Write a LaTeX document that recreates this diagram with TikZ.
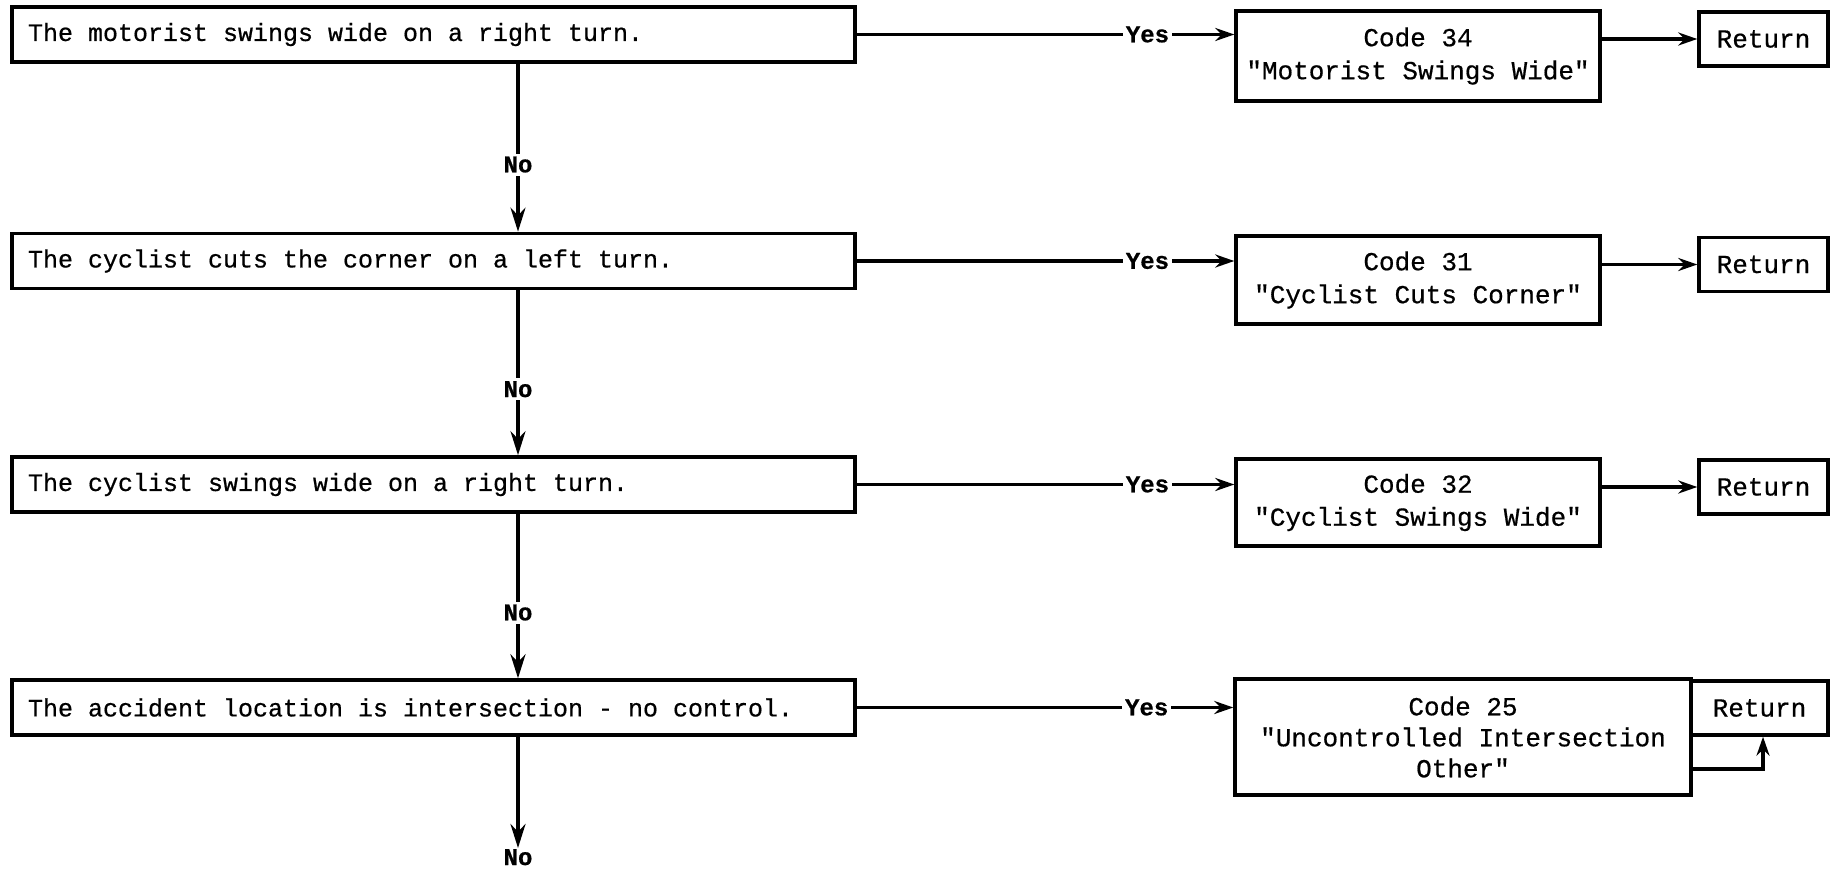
\documentclass[tikz,border=0pt]{standalone}
\usepackage{fontspec}
\newfontfamily\tw{Liberation Mono}[WordSpace=1.2,FakeBold=0.6]
\newfontfamily\twb{Liberation Mono}[FakeBold=0.6]
\usetikzlibrary{arrows.meta}
\begin{document}
\begin{tikzpicture}[x=1pt,y=-1pt,
  every node/.style={font=\tw\fontsize{26}{33}\selectfont},
  qbox/.style={draw,line width=3.4pt,minimum width=843pt,minimum height=55pt,text width=811pt,inner sep=16pt,align=flush left,font=\tw\fontsize{25}{31}\selectfont},
  cbox/.style={draw,line width=3.4pt,align=center,inner sep=0pt},
  rbox/.style={draw,line width=3.4pt,inner sep=0pt,minimum height=54pt},
  arr/.style={line width=3.4pt,-{Stealth[length=24pt,width=15pt]}},
  sarr/.style={line width=3.4pt,-{Stealth[length=19pt,width=13pt]}},
  lbl/.style={font=\twb\bfseries\fontsize{24}{28}\selectfont,fill=white,inner sep=3pt}
]
\useasboundingbox (0,0) rectangle (1841,878);
% question boxes
\node[qbox] (b1) at (433.5,34.5) {The motorist swings wide on a right turn.};
\node[qbox] (b2) at (433.5,261) {The cyclist cuts the corner on a left turn.};
\node[qbox] (b3) at (433.5,484.5) {The cyclist swings wide on a right turn.};
\node[qbox] (b4) at (433.5,707.5) {The accident location is intersection - no control.};
% code boxes
\node[cbox,minimum width=364pt,minimum height=90pt] (c1) at (1418,56) {Code 34\\"Motorist Swings Wide"};
\node[cbox,minimum width=364pt,minimum height=88pt] (c2) at (1418,280) {Code 31\\"Cyclist Cuts Corner"};
\node[cbox,minimum width=364pt,minimum height=87pt] (c3) at (1418,502.5) {Code 32\\"Cyclist Swings Wide"};
\node[cbox,minimum width=456pt,minimum height=116pt,font=\tw\fontsize{26}{31}\selectfont] (c4) at (1463,737) {Code 25\\"Uncontrolled Intersection\\Other"};
% return boxes
\node[rbox,minimum width=129pt] (r1) at (1763.5,39) {Return};
\node[rbox,minimum width=129pt] (r2) at (1763.5,264.5) {Return};
\node[rbox,minimum width=129pt] (r3) at (1763.5,487) {Return};
\node[rbox,minimum width=137pt] (r4) at (1759.5,708) {Return};
% vertical No connectors
\coordinate (vx) at (518,0);
\coordinate (endv) at (518,848);
\draw[arr] (b1.south -| vx) -- node[lbl,pos=0.6] {No} (b2.north -| vx);
\draw[arr] (b2.south -| vx) -- node[lbl,pos=0.6] {No} (b3.north -| vx);
\draw[arr] (b3.south -| vx) -- node[lbl,pos=0.6] {No} (b4.north -| vx);
\draw[arr] (b4.south -| vx) -- (endv);
\node[lbl,anchor=north,inner sep=1pt] (nolast) at (endv) {No};
% Yes connectors
\draw[sarr] (b1.east) -- node[lbl,pos=0.77] {Yes} (b1.east -| c1.west);
\draw[sarr] (b2.east) -- node[lbl,pos=0.77] {Yes} (b2.east -| c2.west);
\draw[sarr] (b3.east) -- node[lbl,pos=0.77] {Yes} (b3.east -| c3.west);
\draw[sarr] (b4.east) -- node[lbl,pos=0.77] {Yes} (b4.east -| c4.west);
% to Return
\draw[sarr] (c1.east |- r1) -- (r1.west);
\draw[sarr] (c2.east |- r2) -- (r2.west);
\draw[sarr] (c3.east |- r3) -- (r3.west);
\coordinate (k) at (1763,769);
\draw[sarr] (c4.east |- k) -| (r4.south -| k);
\end{tikzpicture}
\end{document}
